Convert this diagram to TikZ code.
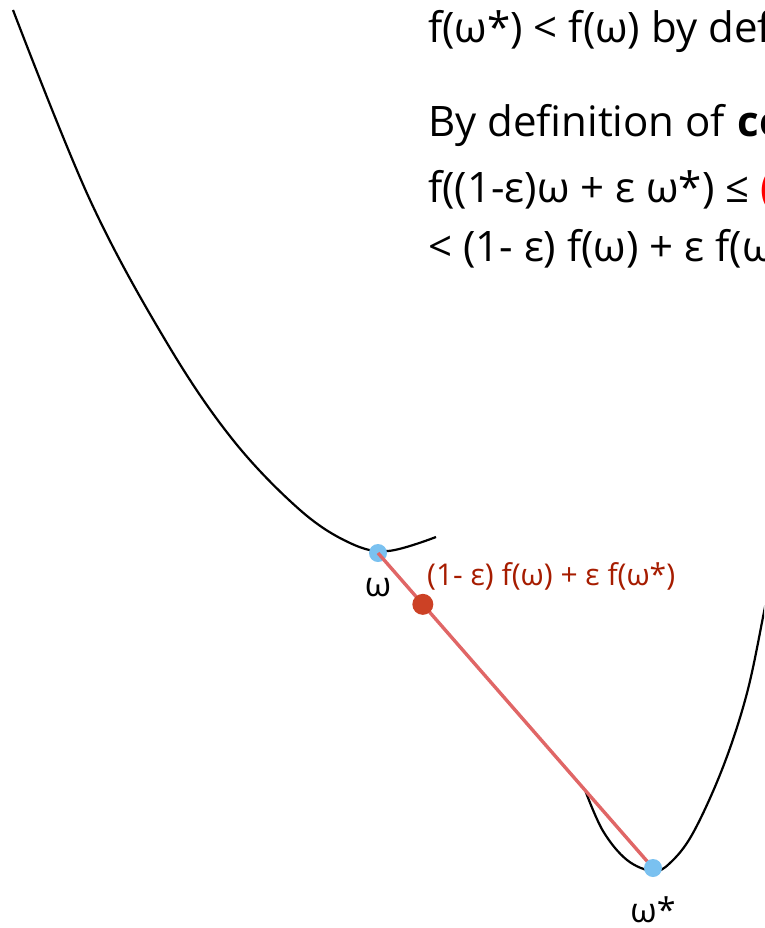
\documentclass[tikz,border=0pt]{standalone}
\usepackage{fontspec}
\setmainfont{Open Sans}
\usepackage{xcolor}
\usepackage{tikz}
\usetikzlibrary{positioning}

\definecolor{dotblue}{HTML}{7AC1F0}
\definecolor{chordred}{HTML}{E06666}
\definecolor{midred}{HTML}{CC4125}
\definecolor{labelred}{HTML}{A61C00}
\definecolor{hired}{HTML}{FF0000}

\begin{document}
\begin{tikzpicture}[x=1pt,y=-1pt,
  curve/.style={black,line width=2.2pt},
  chord/.style={chordred,line width=3.4pt},
  bdot/.style={circle,fill=dotblue,inner sep=0pt,minimum size=18pt},
  rdot/.style={circle,fill=midred,inner sep=0pt,minimum size=21pt},
  txt/.style={anchor=base west,inner sep=0pt,font=\fontsize{42}{50}\selectfont},
  lbl/.style={inner sep=0pt,font=\fontsize{34}{40}\selectfont}]
\useasboundingbox (0,0) rectangle (764,928);
\clip (0,0) rectangle (764,928);
%%
%% Text lines
\node[txt] (def)  at (428, 43) {f(ω*) < f(ω) by definition};
\node[txt] (conv) at (428,137) {By definition of \textbf{convexity}:};
\node[txt] (ineq) at (428,202) {f((1-ε)ω + ε ω*) ≤ \textcolor{hired}{(1- ε) f(ω) + ε f(ω*)}};
\node[txt] (less) at (428,261) {< (1- ε) f(ω) + ε f(ω*)};
%%
%% Curves
\draw[curve] plot[smooth,tension=0.6] coordinates {
  (13,10) (90,200) (167,343) (233,440) (300,510) (350,543) (388,551) (436,537)};
\draw[curve] plot[smooth,tension=0.6] coordinates {
  (585,790) (603,831) (627,860) (653,871) (670,863) (693,833)
  (723,767) (747,693) (764,612) (770,580)};
%%
%% Points and chord
\coordinate (w)  at (378,553);
\coordinate (ws) at (653,868);
\node[bdot] (wdot) at (w) {};
\draw[chord] (w) -- (ws) node[rdot,pos=0.163] (mix) {};
\node[bdot] (wsdot) at (ws) {};
%%
%% Labels
\node[lbl,below=16pt of wdot]  (wlbl)  {ω};
\node[lbl,below=19pt of wsdot] (wslbl) {ω*};
\node[anchor=base west,inner sep=0pt,text=labelred,
      font=\fontsize{30}{34}\selectfont] (mixlbl) at (427,585)
      {(1- ε) f(ω) + ε f(ω*)};
\end{tikzpicture}
\end{document}
